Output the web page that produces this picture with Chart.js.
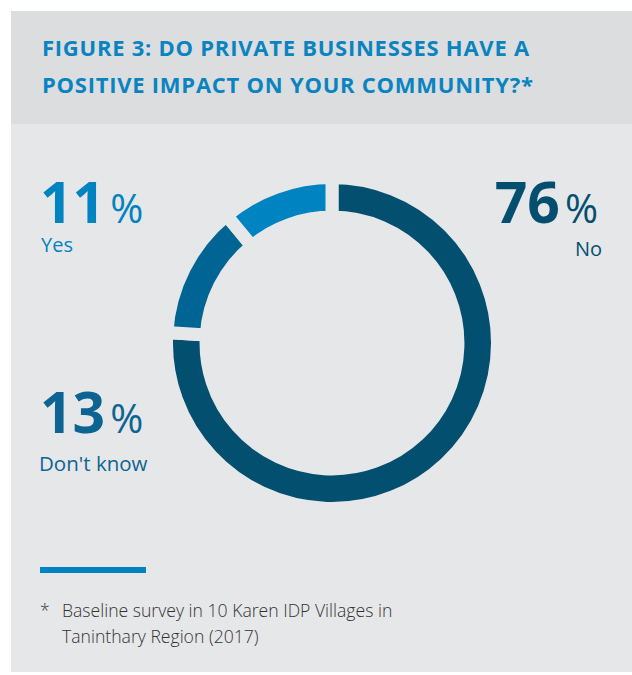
<!DOCTYPE html>
<html>
<head>
<meta charset="utf-8">
<script src="https://cdn.jsdelivr.net/npm/chart.js@4"></script>
<style>
  html, body { margin:0; padding:0; background:#ffffff; width:632px; height:675px; overflow:hidden; }
  #stage { position:relative; width:632px; height:675px; font-family:"Open Sans", sans-serif; }
  #header { position:absolute; left:11px; top:11px; width:621px; height:113px; background:#dcdddf; }
  #panel { position:absolute; left:11px; top:124px; width:621px; height:548px; background:#e6e7e9; }
  #title { position:absolute; left:42px; top:29px; font-size:22px; line-height:37px; font-weight:700; color:#0a84c1; white-space:nowrap; letter-spacing:0.75px; }
  .big { position:absolute; font-size:57px; line-height:1; font-weight:700; white-space:nowrap; }
  .big span { font-size:40px; font-weight:400; margin-left:5px; }
  .lab { position:absolute; font-size:20px; line-height:1; font-weight:400; white-space:nowrap; }
  #bar { position:absolute; left:40px; top:567px; width:106px; height:6px; background:#0083c0; }
  #note { position:absolute; left:40px; top:597px; font-size:17.6px; line-height:26px; color:#333333; white-space:nowrap; font-weight:300; }
  #note .star { position:absolute; left:0; top:0; }
  #note .txt { margin-left:22px; }
  #chartBox { position:absolute; left:160px; top:171px; width:344px; height:344px; }
</style>
</head>
<body>
<div id="stage">
  <div id="header"></div>
  <div id="panel"></div>
  <div id="title">FIGURE 3: DO PRIVATE BUSINESSES HAVE A<br>POSITIVE IMPACT ON YOUR COMMUNITY?*</div>

  <div class="big" id="v0" style="right:34px; top:173px; color:#044f70;"></div>
  <div class="lab" id="l0" style="right:30px; top:239px; color:#044f70;"></div>

  <div class="big" id="v2" style="left:40px; top:173px; color:#0083c0;"></div>
  <div class="lab" id="l2" style="left:41px; top:235px; color:#0083c0;"></div>

  <div class="big" id="v1" style="left:40px; top:383px; color:#0d6493;"></div>
  <div class="lab" id="l1" style="left:39px; top:453px; font-size:20.5px; color:#0d6493;"></div>

  <div id="chartBox"><canvas id="c"></canvas></div>

  <div id="bar"></div>
  <div id="note"><span class="star">*</span><div class="txt">Baseline survey in 10 Karen IDP Villages in<br>Taninthary Region (2017)</div></div>
</div>
<script>
const categories = ["No", "Don't know", "Yes"];
const percentages = [76, 13, 11];
const sliceColors = ["#034f70", "#006494", "#0083c1"];
const panelColor = "#e6e7e9";

categories.forEach((c, i) => {
  document.getElementById('v' + i).innerHTML = percentages[i] + '<span>%</span>';
  document.getElementById('l' + i).textContent = c;
});

new Chart(document.getElementById('c'), {
  type: 'doughnut',
  data: {
    labels: categories,
    datasets: [{
      data: percentages,
      backgroundColor: sliceColors,
      borderColor: panelColor,
      borderWidth: 13,
      hoverOffset: 0
    }]
  },
  options: {
    responsive: true,
    maintainAspectRatio: false,
    animation: false,
    cutout: '76.1%',
    rotation: 0,
    layout: { padding: 0 },
    plugins: { legend: { display: false }, tooltip: { enabled: false } },
    events: []
  }
});
</script>
</body>
</html>
